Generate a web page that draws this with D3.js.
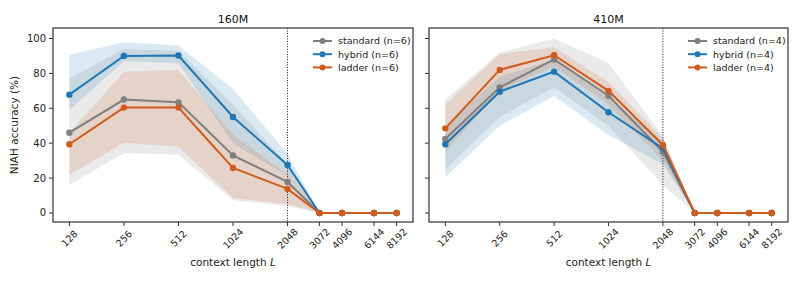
<!DOCTYPE html>
<html>
<head>
<meta charset="utf-8">
<script src="https://cdn.jsdelivr.net/npm/d3@7"></script>
<style>
  body { margin: 0; background: #fff; }
  svg { font-family: "DejaVu Sans", sans-serif; }
</style>
</head>
<body>
<div id="viz"></div>
<script>
let w = 800;
let h = 284;

// context lengths (x ticks)
let contextLengths = [128, 256, 512, 1024, 2048, 3072, 4096, 6144, 8192];
let yTicks = [0, 20, 40, 60, 80, 100];
let seriesNames = ["standard", "hybrid", "ladder"];
let seriesColors = ["#7f7f7f", "#1f77b4", "#cf5b1c"];

// 160M
let std160 = [46, 65, 63.4, 33, 17.8, 0, 0, 0, 0];
let std160Lo = [16, 34.4, 33.4, 7.3, 4, 0, 0, 0, 0];
let std160Hi = [77, 94, 93, 62, 28, 0, 0, 0, 0];
let hyb160 = [67.8, 90, 90.2, 55, 27.5, 0, 0, 0, 0];
let hyb160Lo = [59, 87, 86, 40, 21, 0, 0, 0, 0];
let hyb160Hi = [90.7, 97.8, 96, 71, 34, 0, 0, 0, 0];
let lad160 = [39.4, 60.4, 60.4, 25.8, 13.8, 0, 0, 0, 0];
let lad160Lo = [21.8, 40.3, 38, 8.6, 5, 0, 0, 0, 0];
let lad160Hi = [46, 81, 82, 45, 22, 0, 0, 0, 0];

// 410M
let std410 = [42.4, 72, 88, 67.2, 35, 0, 0, 0, 0];
let std410Lo = [25, 55, 72, 50, 16, 0, 0, 0, 0];
let std410Hi = [65, 92, 100, 86, 44, 0, 0, 0, 0];
let hyb410 = [39.4, 69.5, 81, 57.7, 37, 0, 0, 0, 0];
let hyb410Lo = [20.5, 50, 67, 44.7, 28, 0, 0, 0, 0];
let hyb410Hi = [50, 78, 88, 66, 41, 0, 0, 0, 0];
let lad410 = [48.5, 82, 90.4, 70, 39, 0, 0, 0, 0];
let lad410Lo = [35, 70, 84, 62, 30, 0, 0, 0, 0];
let lad410Hi = [62, 91, 95, 75, 43, 0, 0, 0, 0];

let panels = [
  { title: "160M", n: 6, x0: 53, x1: 413,
    mean: [std160, hyb160, lad160], lo: [std160Lo, hyb160Lo, lad160Lo], hi: [std160Hi, hyb160Hi, lad160Hi] },
  { title: "410M", n: 4, x0: 429, x1: 788,
    mean: [std410, hyb410, lad410], lo: [std410Lo, hyb410Lo, lad410Lo], hi: [std410Hi, hyb410Hi, lad410Hi] }
];

let yTop = 28;
let yBottom = 222;

let viz = d3.select("#viz")
  .append("svg")
  .attr("width", w)
  .attr("height", h);

let yScale = d3.scaleLinear().domain([-5.16, 106]).range([yBottom, yTop]);

panels.forEach(function (p, pi) {
  let pad = Math.pow(2, 0.3);
  let xScale = d3.scaleLog().base(2)
    .domain([contextLengths[0] / pad, contextLengths[contextLengths.length - 1] * pad])
    .range([p.x0, p.x1]);

  let g = viz.append("g");

  // bands
  p.mean.forEach(function (m, si) {
    let area = d3.area()
      .x((d, i) => xScale(contextLengths[i]))
      .y0((d, i) => yScale(p.lo[si][i]))
      .y1((d, i) => yScale(p.hi[si][i]));
    g.append("path")
      .attr("d", area(m))
      .attr("fill", seriesColors[si])
      .attr("fill-opacity", 0.16);
  });

  // vertical dotted line at 2048
  g.append("line")
    .attr("x1", xScale(2048)).attr("x2", xScale(2048))
    .attr("y1", yTop).attr("y2", yBottom)
    .attr("stroke", "#111")
    .attr("stroke-width", 1)
    .attr("stroke-dasharray", "1,1.6");

  // lines + markers
  p.mean.forEach(function (m, si) {
    let line = d3.line()
      .x((d, i) => xScale(contextLengths[i]))
      .y(d => yScale(d));
    g.append("path")
      .attr("d", line(m))
      .attr("fill", "none")
      .attr("stroke", seriesColors[si])
      .attr("stroke-width", 2);
    g.selectAll(".dot" + si)
      .data(m)
      .enter()
      .append("circle")
      .attr("cx", (d, i) => xScale(contextLengths[i]))
      .attr("cy", d => yScale(d))
      .attr("r", 3.2)
      .attr("fill", seriesColors[si]);
  });

  // frame
  g.append("rect")
    .attr("x", p.x0).attr("y", yTop)
    .attr("width", p.x1 - p.x0).attr("height", yBottom - yTop)
    .attr("fill", "none")
    .attr("stroke", "#333")
    .attr("stroke-width", 1.2);

  // y ticks
  yTicks.forEach(function (t) {
    g.append("line")
      .attr("x1", p.x0 - 4).attr("x2", p.x0)
      .attr("y1", yScale(t)).attr("y2", yScale(t))
      .attr("stroke", "#333").attr("stroke-width", 1);
    if (pi == 0) {
      g.append("text")
        .attr("x", p.x0 - 7)
        .attr("y", yScale(t))
        .attr("dy", "0.35em")
        .attr("text-anchor", "end")
        .attr("font-size", 10)
        .attr("fill", "#222")
        .text(t);
    }
  });

  // x ticks
  contextLengths.forEach(function (c) {
    let x = xScale(c);
    g.append("line")
      .attr("x1", x).attr("x2", x)
      .attr("y1", yBottom).attr("y2", yBottom + 4)
      .attr("stroke", "#333").attr("stroke-width", 1);
    g.append("text")
      .attr("transform", "translate(" + x + "," + 238.5 + ") rotate(-45)")
      .attr("text-anchor", "middle")
      .attr("dominant-baseline", "central")
      .attr("font-size", 9.5)
      .attr("fill", "#222")
      .text(c);
  });

  // title
  g.append("text")
    .attr("x", (p.x0 + p.x1) / 2)
    .attr("y", 23)
    .attr("text-anchor", "middle")
    .attr("font-size", 11)
    .attr("fill", "#111")
    .text(p.title);

  // x label
  let xl = g.append("text")
    .attr("x", (p.x0 + p.x1) / 2)
    .attr("y", 266)
    .attr("text-anchor", "middle")
    .attr("font-size", 10.5)
    .attr("fill", "#222");
  xl.append("tspan").text("context length ");
  xl.append("tspan").attr("font-style", "italic").text("L");

  // legend
  let lx = p.x1 - 100;
  seriesNames.forEach(function (s, si) {
    let ly = 41 + si * 13.2;
    g.append("line")
      .attr("x1", lx).attr("x2", lx + 19)
      .attr("y1", ly).attr("y2", ly)
      .attr("stroke", seriesColors[si]).attr("stroke-width", 2);
    g.append("circle")
      .attr("cx", lx + 9.5).attr("cy", ly).attr("r", 3)
      .attr("fill", seriesColors[si]);
    g.append("text")
      .attr("x", lx + 25)
      .attr("y", ly)
      .attr("dy", "0.35em")
      .attr("font-size", 9.5)
      .attr("fill", "#222")
      .text(s + " (n=" + p.n + ")");
  });
});

// y label
viz.append("text")
  .attr("transform", "translate(18," + (yTop + yBottom) / 2 + ") rotate(-90)")
  .attr("text-anchor", "middle")
  .attr("font-size", 10.5)
  .attr("fill", "#222")
  .text("NIAH accuracy (%)");
</script>
</body>
</html>
